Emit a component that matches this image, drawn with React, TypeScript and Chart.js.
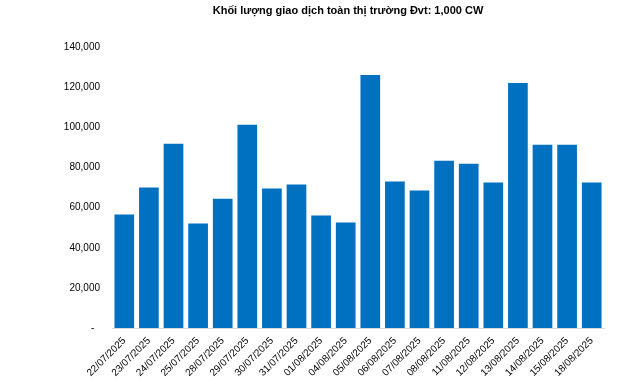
import React, { useEffect, useRef } from "react";
import { Chart, registerables } from "chart.js";

Chart.register(...registerables);

const TITLE = "Khối lượng giao dịch toàn thị trường Đvt: 1,000 CW";

const categories: string[] = [
  "22/07/2025", "23/07/2025", "24/07/2025", "25/07/2025", "28/07/2025",
  "29/07/2025", "30/07/2025", "31/07/2025", "01/08/2025", "04/08/2025",
  "05/08/2025", "06/08/2025", "07/08/2025", "08/08/2025", "11/08/2025",
  "12/08/2025", "13/08/2025", "14/08/2025", "15/08/2025", "18/08/2025",
];

const volumes: number[] = [
  56600, 70000, 91900, 52100, 64500,
  101300, 69500, 71500, 56100, 52600,
  126100, 73000, 68500, 83400, 81900,
  72500, 122100, 91400, 91400, 72500,
];

const yTicks: number[] = [0, 20000, 40000, 60000, 80000, 100000, 120000, 140000];

const FONT = "'Liberation Sans', Arial, Helvetica, sans-serif";

function fmt(v: number): string {
  if (v === 0) return "-  ";
  return v.toLocaleString("en-US");
}

const titleShift = {
  id: "titleShift",
  afterLayout(chart: any) {
    const tb = chart.titleBlock;
    if (tb) {
      tb.left = 56;
      tb.right = 640;
      tb.width = 584;
    }
  },
};

export default function App() {
  const ref = useRef<HTMLCanvasElement | null>(null);

  useEffect(() => {
    if (!ref.current) return;
    const chart = new Chart(ref.current, {
      type: "bar",
      data: {
        labels: categories,
        datasets: [
          {
            data: volumes,
            backgroundColor: "#0070C0",
            borderWidth: 0,
            categoryPercentage: 0.8,
            barPercentage: 1,
          },
        ],
      },
      options: {
        animation: false,
        responsive: false,
        maintainAspectRatio: false,
        layout: { padding: { left: 0, right: 36, top: 0, bottom: 0 } },
        plugins: {
          legend: { display: false },
          tooltip: { enabled: false },
          title: {
            display: true,
            text: TITLE,
            color: "#000000",
            font: { family: FONT, size: 11, weight: "bold" },
            padding: { top: 4, bottom: 30 },
          },
        },
        scales: {
          x: {
            grid: { display: false, drawTicks: false },
            border: { display: true, color: "#d9d9d9", width: 1 },
            ticks: {
              minRotation: 45,
              maxRotation: 45,
              autoSkip: false,
              padding: 7,
              color: "#000000",
              font: { family: FONT, size: 10 },
            },
            afterFit: (scale: any) => {
              scale.height = 55;
            },
          },
          y: {
            min: 0,
            max: 140000,
            grid: { display: false, drawTicks: false },
            border: { display: false },
            afterBuildTicks: (scale: any) => {
              scale.ticks = yTicks.map((v) => ({ value: v }));
            },
            ticks: {
              padding: 12,
              color: "#000000",
              font: { family: FONT, size: 10 },
              callback: (v: any) => fmt(Number(v)),
            },
            afterFit: (scale: any) => {
              scale.width = 112;
            },
          },
        },
      },
      plugins: [titleShift],
    });
    return () => chart.destroy();
  }, []);

  return (
    <div style={{ position: "fixed", left: 0, top: 0, width: 640, height: 383, background: "#fff" }}>
      <canvas ref={ref} width={640} height={383} style={{ width: 640, height: 383 }} />
    </div>
  );
}
